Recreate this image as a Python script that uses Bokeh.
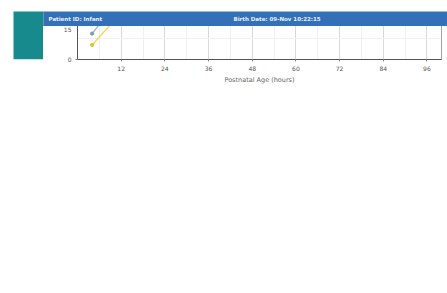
import math
from bokeh.plotting import figure
from bokeh.layouts import column, row
from bokeh.models import (Range1d, FixedTicker, Label, Legend, LegendItem)
from bokeh.embed import file_html
from bokeh.resources import INLINE
from bokeh.core.properties import value

# ---- data ----
hours = [4, 12, 24, 36, 48, 60, 72, 84, 96]
p95 = [3.0, 5.3, 7.8, 9.75, 11.1, 12.3, 12.75, 13.2, 13.5]
p75 = [1.9, 3.85, 6.05, 7.75, 8.95, 9.8, 10.6, 11.1, 11.5]
p50 = [1.25, 3.0, 5.0, 6.5, 7.6, 8.45, 8.95, 9.5, 9.75]
p25 = [0.7, 2.25, 3.9, 5.3, 6.1, 6.6, 6.8, 6.95, 7.0]
series_names = ["95th", "75th", "50th", "25th"]

pt_hours = [13.7, 19.8, 28.5, 43.7, 51.6, 67.9, 75.9]
pt_tcb = [11.0, 14.5, 13.0, 11.7, 10.0, 7.0, 5.86]
last_label = "5.86"

x_ticks = [12, 24, 36, 48, 60, 72, 84, 96]
x_minor = [6, 18, 30, 42, 54, 66, 78, 90]
y_ticks = [0, 5, 10, 15]
y_minor = [1, 2, 3, 4, 6, 7, 8, 9, 11, 12, 13, 14]

title_text = "Maisels TcB Nomogram"
x_label = "Postnatal Age (hours)"
y_label = "TcB (mg/dL)"
side_text = ["BiliCare Nomogram"]
header_texts = ["Patient ID:  Infant", "Birth Date:  09-Nov 10:22:15"]

FONT = "DejaVu Sans"
TEAL = "#168a8c"
BLUE = "#3470b8"

# ---- header strip (page y 0..26) ----
hdr = figure(width=447, height=26, output_backend="svg", toolbar_location=None,
             x_range=Range1d(0, 447), y_range=Range1d(26, 0),
             x_axis_type=None, y_axis_type=None, min_border=0,
             outline_line_color=None, background_fill_color="white",
             border_fill_color="white")
hdr.grid.visible = False
hdr.quad(left=[13], right=[43], top=[11], bottom=[26], fill_color=TEAL, line_color=None)
hdr.quad(left=[43], right=[447], top=[11], bottom=[26], fill_color=BLUE, line_color=None)
hdr.text(x=[48, 233], y=[18.5, 18.5], text=header_texts, text_baseline="middle",
         text_font=value(FONT), text_font_size="5.5px", text_font_style="bold",
         text_color="#e8eef8")

# ---- sidebar (page x 0..43, y 26..293) ----
side = figure(width=43, height=267, output_backend="svg", toolbar_location=None,
              x_range=Range1d(0, 43), y_range=Range1d(267, 0),
              x_axis_type=None, y_axis_type=None, min_border=0,
              outline_line_color=None, background_fill_color="white",
              border_fill_color="white")
side.grid.visible = False
side.quad(left=[13], right=[43], top=[0], bottom=[267], fill_color=TEAL, line_color=None)
side.text(x=[28], y=[131], text=side_text, angle=math.pi / 2,
          text_align="center", text_baseline="middle",
          text_font=value(FONT), text_font_size="10px", text_font_style="bold",
          text_color="white")

# ---- main chart (page x 43..447, y 26..293) ----
W, H = 404, 267
FL, FR, FT, FB = 34, 398, 33, 220
p = figure(width=W, height=H, output_backend="svg", toolbar_location=None,
           x_range=Range1d(0, 100), y_range=Range1d(0, 15),
           min_border_left=FL, min_border_right=W - FR,
           min_border_top=FT, min_border_bottom=H - FB,
           background_fill_color="white", border_fill_color="white")
p.outline_line_color = "#a0a0a0"

p.title.text = title_text
p.title.align = "center"
p.title.text_font = FONT
p.title.text_font_size = "9.5px"
p.title.text_font_style = "normal"
p.title.text_color = "#808080"
p.title.standoff = 4

for ax, ticks, minor in ((p.xaxis[0], x_ticks, x_minor), (p.yaxis[0], y_ticks, y_minor)):
    ax.ticker = FixedTicker(ticks=ticks, minor_ticks=minor)
    ax.axis_line_color = "#555555"
    ax.major_tick_line_color = "#888888"
    ax.major_tick_out = 2
    ax.major_tick_in = 0
    ax.minor_tick_line_color = None
    ax.major_label_text_font = FONT
    ax.major_label_text_font_size = "6px"
    ax.major_label_text_color = "#555555"
    ax.major_label_standoff = 2
    ax.axis_label_text_font = FONT
    ax.axis_label_text_font_size = "6.5px"
    ax.axis_label_text_font_style = "normal"
    ax.axis_label_text_color = "#666666"

p.xaxis.axis_label = x_label
p.xaxis.axis_label_standoff = 2
p.yaxis.axis_label = y_label
p.yaxis.axis_label_standoff = 1

p.xgrid.grid_line_color = "#d9d9d9"
p.ygrid.grid_line_color = "#d9d9d9"
p.xgrid.minor_grid_line_color = "#f0f0f0"
p.ygrid.minor_grid_line_color = "#f0f0f0"

colors = ["#7aaede", "#f1a36c", "#9fb4c9", "#f2d652"]
mcolors = ["#5e92c8", "#e0874b", "#8198af", "#e2c23a"]
items = []
for name, vals, c, mc in zip(series_names, [p95, p75, p50, p25], colors, mcolors):
    ln = p.line(hours, vals, line_color=c, line_width=1.3)
    mk = p.scatter(hours, vals, size=3.2, fill_color=mc, line_color=mc)
    items.append(LegendItem(label=name, renderers=[ln, mk]))

p.line(pt_hours, pt_tcb, line_color="#6e6e6e", line_width=1.3)
p.scatter(pt_hours[:-1], pt_tcb[:-1], size=3.8, fill_color="#555555", line_color="#555555")
p.scatter(pt_hours[-1:], pt_tcb[-1:], marker="square", size=4.5,
          fill_color="#1c2850", line_color="#1c2850")
p.add_layout(Label(x=pt_hours[-1], y=pt_tcb[-1], text=last_label, y_offset=10,
                   text_align="center", text_baseline="middle",
                   text_font=FONT, text_font_size="5px", text_color="#333333",
                   border_line_color="#333333", background_fill_color="white", padding=1))

legend = Legend(items=items, orientation="horizontal", location=(116, 0),
                label_text_font=FONT, label_text_font_size="5.5px", label_text_color="#444444",
                glyph_width=9, glyph_height=6, label_standoff=2, spacing=4,
                padding=2, margin=6, label_height=6,
                border_line_color="#555555", border_line_width=1,
                background_fill_color="white")
p.add_layout(legend, "below")

layout = column(hdr, row(side, p))
open("out.html", "w").write(file_html(layout, INLINE))
